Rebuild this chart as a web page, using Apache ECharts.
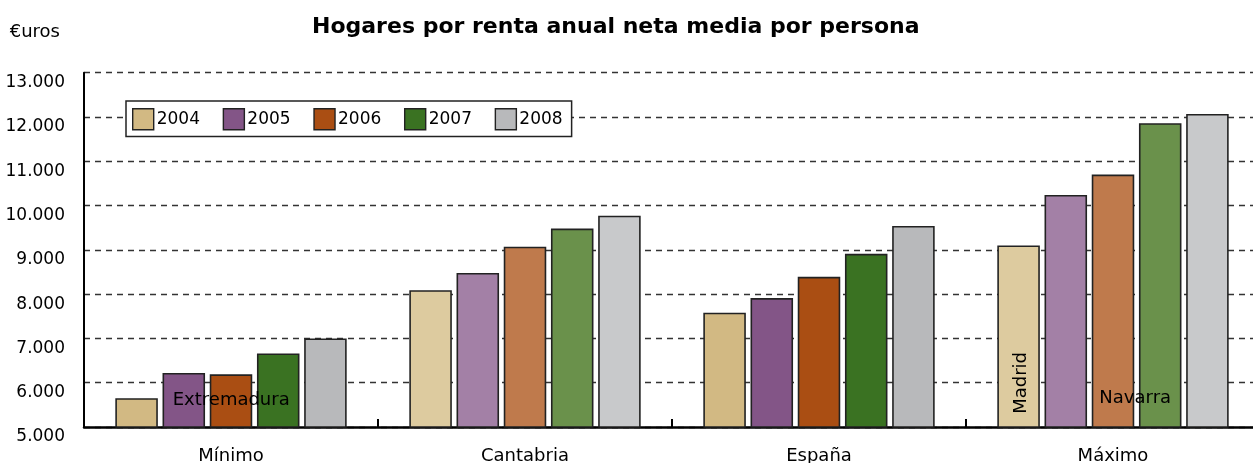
<!DOCTYPE html>
<html lang="es">
<head>
<meta charset="UTF-8">
<title>Hogares por renta anual neta media por persona</title>
<script src="https://cdn.jsdelivr.net/npm/echarts@6/dist/echarts.min.js"></script>
<style>
    html, body { margin: 0; padding: 0; background: #fff; }
    #main { width: 1253px; height: 463px; }
</style>
</head>
<body>
<div id="main"></div>
<script>
    // datos
    var categories = ['Mínimo', 'Cantabria', 'España', 'Máximo'];
    var years = ['2004', '2005', '2006', '2007', '2008'];
    var yTicks = [5000, 6000, 7000, 8000, 9000, 10000, 11000, 12000, 13000];

    var v2004 = [5650, 8090, 7580, 9100];
    var v2005 = [6220, 8480, 7910, 10240];
    var v2006 = [6190, 9070, 8390, 10700];
    var v2007 = [6660, 9480, 8910, 11860];
    var v2008 = [7000, 9770, 9540, 12070];
    var values = [v2004, v2005, v2006, v2007, v2008];

    // comunidades señaladas en las barras
    var nameMin = 'Extremadura';
    var nameMax2004 = 'Madrid';
    var nameMax = 'Navarra';

    // colores: oscuros (Mínimo, España) y claros (Cantabria, Máximo)
    var darkColors = ['#d2b983', '#835587', '#aa4e13', '#3a7222', '#b8b9bb'];
    var lightColors = ['#ddcb9f', '#a380a6', '#bf7a4c', '#6a914b', '#c8c9cb'];
    var font = 'DejaVu Sans';

    function fmt(v) {
        return String(v).replace(/\B(?=(\d{3})+(?!\d))/g, '.');
    }

    var series = [];
    for (var s = 0; s < years.length; s++) {
        var data = [];
        for (var c = 0; c < categories.length; c++) {
            var item = {
                value: values[s][c],
                itemStyle: { color: (c % 2 === 0) ? darkColors[s] : lightColors[s] }
            };
            // etiquetas de comunidad
            if (s === 3 && c === 0) {
                item.label = { show: true, formatter: nameMin, position: 'insideBottom', distance: 18, offset: [-47, 0] };
            }
            if (s === 3 && c === 3) {
                item.label = { show: true, formatter: nameMax, position: 'insideBottom', distance: 20, offset: [-25, 0] };
            }
            if (s === 0 && c === 3) {
                item.label = { show: true, formatter: nameMax2004, position: 'insideBottom', distance: 14,
                    rotate: 90, align: 'left', verticalAlign: 'middle', offset: [0, 3] };
            }
            data.push(item);
        }
        series.push({
            name: years[s],
            type: 'bar',
            barGap: '11%',
            barCategoryGap: '21.3%',
            itemStyle: { color: darkColors[s], borderColor: '#222', borderWidth: 1.6 },
            label: { color: '#000', fontFamily: font, fontSize: 18 },
            emphasis: { disabled: true },
            data: data
        });
    }

    var myChart = echarts.init(document.getElementById('main'));
    var option = {
        animation: false,
        textStyle: { fontFamily: font },
        title: {
            text: 'Hogares por renta anual neta media por persona',
            left: 312,
            top: 16,
            padding: 0,
            textStyle: { fontFamily: font, fontSize: 22, fontWeight: 'bold', color: '#000' }
        },
        legend: {
            left: 126,
            top: 101,
            padding: [7, 9, 6, 6],
            itemWidth: 21,
            itemHeight: 21,
            itemGap: 22.7,
            icon: 'rect',
            backgroundColor: '#fff',
            borderColor: '#222',
            borderWidth: 1.5,
            borderRadius: 0,
            itemStyle: { borderColor: '#222', borderWidth: 1.4 },
            textStyle: { fontFamily: font, fontSize: 17, color: '#000', padding: [0, 0, 0, -2] },
            data: years
        },
        grid: { left: 84, top: 72.7, width: 1176, bottom: 36, outerBoundsMode: 'none', containLabel: false },
        xAxis: {
            type: 'category',
            data: categories,
            axisLine: { lineStyle: { color: '#000', width: 2.5 } },
            axisTick: { show: true, inside: true, length: 8, lineStyle: { color: '#000', width: 2 } },
            axisLabel: { fontFamily: font, fontSize: 18, color: '#000', margin: 20 }
        },
        yAxis: {
            type: 'value',
            min: yTicks[0],
            max: yTicks[yTicks.length - 1],
            interval: yTicks[1] - yTicks[0],
            name: '€uros',
            nameLocation: 'end',
            nameGap: 31,
            nameTextStyle: { fontFamily: font, fontSize: 18, color: '#000', align: 'right', padding: [0, 24, 0, 0] },
            axisLine: { show: true, lineStyle: { color: '#000', width: 2 } },
            axisTick: { show: false },
            splitLine: { lineStyle: { color: '#333', width: 1.3, type: [6, 5] } },
            axisLabel: {
                fontFamily: font, fontSize: 17, color: '#000', margin: 19,
                verticalAlign: 'top', lineHeight: 14, padding: [3, 0, 0, 0],
                formatter: fmt
            }
        },
        series: series
    };
    myChart.setOption(option);
</script>
</body>
</html>
